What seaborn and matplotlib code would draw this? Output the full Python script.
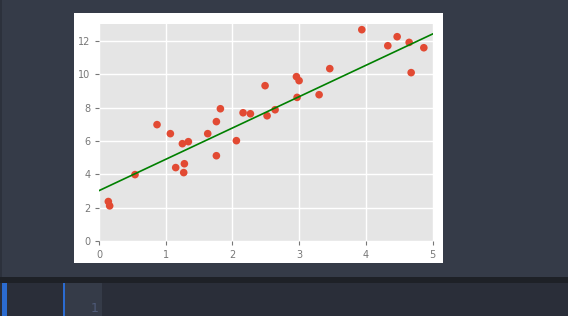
import matplotlib
matplotlib.use("Agg")
import matplotlib.pyplot as plt
from matplotlib.patches import Rectangle
import seaborn as sns
import numpy as np
import pandas as pd

# ---- data ----
x_vals = [0.14, 0.16, 0.54, 0.87, 1.07, 1.15, 1.25, 1.28, 1.27, 1.34,
          1.63, 1.76, 1.76, 1.82, 2.06, 2.16, 2.27, 2.49, 2.52, 2.64,
          2.96, 3.00, 2.97, 3.30, 3.46, 3.94, 4.33, 4.47, 4.65, 4.68, 4.87]
y_vals = [2.38, 2.12, 3.99, 6.98, 6.44, 4.41, 5.84, 4.64, 4.11, 5.96,
          6.44, 7.16, 5.12, 7.93, 6.02, 7.69, 7.63, 9.31, 7.51, 7.87,
          9.85, 9.61, 8.61, 8.77, 10.33, 12.66, 11.70, 12.24, 11.90, 10.09, 11.58]
fit_x = [0.0, 5.0]
fit_y = [3.03, 12.40]
x_ticks = [0, 1, 2, 3, 4, 5]
y_ticks = [0, 2, 4, 6, 8, 10, 12]

pts = pd.DataFrame({"x": x_vals, "y": y_vals})
fit = pd.DataFrame({"x": fit_x, "y": fit_y})

plt.style.use("ggplot")
plt.rcParams["font.family"] = ["DejaVu Sans"]

W, H = 568, 316
fig = plt.figure(figsize=(W / 100, H / 100), dpi=100, facecolor="#353b48")

def frect(x0, y0, x1, y1, color, z=-10):
    # pixel box (top-left origin) to figure coords
    fig.patches.append(Rectangle((x0 / W, 1 - y1 / H), (x1 - x0) / W, (y1 - y0) / H,
                                 transform=fig.transFigure, facecolor=color,
                                 edgecolor="none", zorder=z))

# app chrome
frect(0, 0, 2, 277, "#2c313c")
frect(0, 277, W, 283, "#1e2127")
frect(0, 283, W, H, "#2a2e39")
frect(2, 283, 7, H, "#2b6bd0")
frect(63, 283, 65, H, "#2b6bd0")
frect(65, 283, 102, H, "#353b48")
# white figure card
frect(74, 13, 443, 263, "white")
fig.text(95 / W, 1 - 315 / H, "1", color="#4e5a78", fontsize=9, ha="center", va="bottom")

ax = fig.add_axes([99 / W, 1 - 241.3 / H, (432.5 - 99) / W, (241.3 - 24) / H])
ax.set_zorder(5)
ax.set_facecolor("#e5e5e5")

sns.scatterplot(data=pts, x="x", y="y", ax=ax, color="#E24A33", s=30,
                edgecolor="none", zorder=3)
sns.lineplot(data=fit, x="x", y="y", ax=ax, color="green", linewidth=1.2, zorder=4)

ax.set_xlim(0, 5)
ax.set_ylim(0, 13)
ax.set_xticks(x_ticks)
ax.set_yticks(y_ticks)
ax.set_xlabel("")
ax.set_ylabel("")
ax.grid(True, color="white", linewidth=1.0)
for s in ax.spines.values():
    s.set_visible(False)
ax.tick_params(axis="both", colors="#777777", labelsize=7, length=3, width=0.8,
               direction="out", pad=3)

fig.savefig("out.png", dpi=100, facecolor=fig.get_facecolor())
